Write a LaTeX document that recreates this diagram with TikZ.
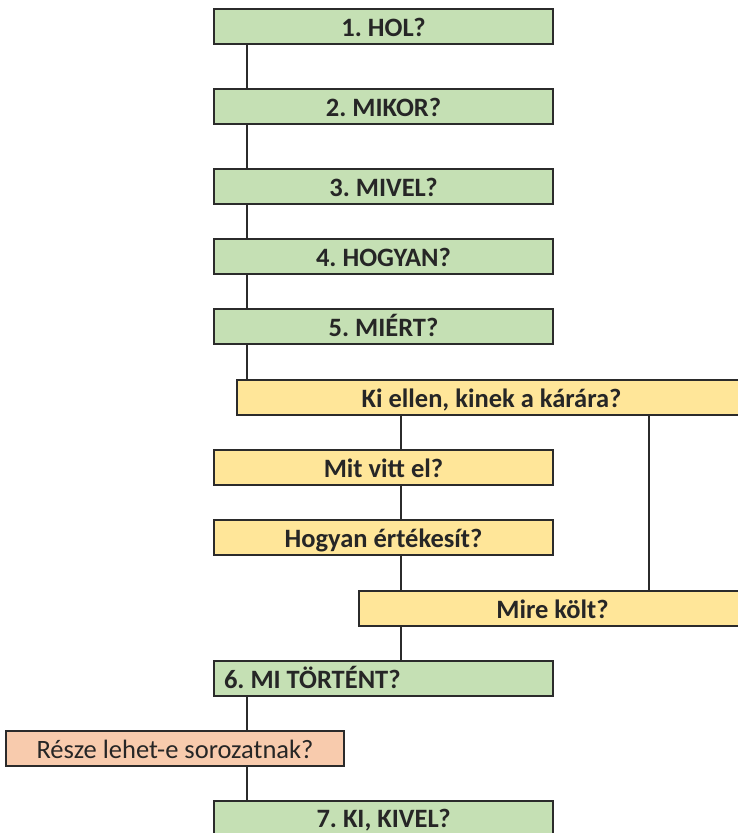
\documentclass[tikz,border=0pt]{standalone}
\usepackage{fontspec}
\setmainfont{Carlito}
\definecolor{gfill}{HTML}{C5E0B4}
\definecolor{yfill}{HTML}{FFE699}
\definecolor{ofill}{HTML}{F8CBAD}
\definecolor{edge}{HTML}{2B2B2B}
\definecolor{txt}{HTML}{262626}
\tikzset{
  box/.style={draw=edge, line width=2pt, inner sep=0pt, minimum height=35pt,
    text=txt, font=\fontsize{26.5}{30}\selectfont\bfseries\frenchspacing,
    text height=21pt, text depth=0.5pt},
  gbox/.style={box, fill=gfill},
  ybox/.style={box, fill=yfill},
  obox/.style={box, fill=ofill, font=\fontsize{26.5}{30}\selectfont\frenchspacing},
  conn/.style={draw=edge, line width=2pt}
}
\begin{document}
\begin{tikzpicture}[x=1pt,y=-1pt]
\useasboundingbox (0,0) rectangle (738,833);
\node[gbox, minimum width=339pt] (b1) at (383.5,26.5) {1. HOL?};
\node[gbox, minimum width=339pt] (b2) at (383.5,106) {2. MIKOR?};
\node[gbox, minimum width=339pt] (b3) at (383.5,186.3) {3. MIVEL?};
\node[gbox, minimum width=339pt] (b4) at (383.5,256.5) {4. HOGYAN?};
\node[gbox, minimum width=339pt] (b5) at (383.5,326.5) {5. MIÉRT?};
\node[ybox, minimum width=509pt] (ki) at (491.5,397) {Ki ellen, kinek a kárára?};
\node[ybox, minimum width=339pt] (mit) at (383.5,467.5) {Mit vitt el?};
\node[ybox, minimum width=339pt] (hogy) at (383.5,537) {Hogyan értékesít?};
\node[ybox, minimum width=387pt] (mire) at (552.5,608) {Mire költ?};
\node[gbox, minimum width=339pt] (b6) at (383.5,678) {\makebox[319pt][l]{6. MI TÖRTÉNT?}};
\node[obox, minimum width=338pt] (resz) at (175,748.5) {Része lehet-e sorozatnak?};
\node[gbox, minimum width=339pt, text depth=4pt] (b7) at (383.5,818.5) {7. KI, KIVEL?};
\coordinate (cl) at (247,0);
\coordinate (cm) at (400.5,0);
\coordinate (cr) at (649,0);
\draw[conn] (b1.south -| cl) -- (b2.north -| cl);
\draw[conn] (b2.south -| cl) -- (b3.north -| cl);
\draw[conn] (b3.south -| cl) -- (b4.north -| cl);
\draw[conn] (b4.south -| cl) -- (b5.north -| cl);
\draw[conn] (b5.south -| cl) -- (ki.north -| cl);
\draw[conn] (ki.south -| cm) -- (mit.north -| cm);
\draw[conn] (mit.south -| cm) -- (hogy.north -| cm);
\draw[conn] (hogy.south -| cm) -- (mire.north -| cm);
\draw[conn] (ki.south -| cr) -- (mire.north -| cr);
\draw[conn] (mire.south -| cm) -- (b6.north -| cm);
\draw[conn] (b6.south -| cl) -- (resz.north -| cl);
\draw[conn] (resz.south -| cl) -- (b7.north -| cl);
\end{tikzpicture}
\end{document}
